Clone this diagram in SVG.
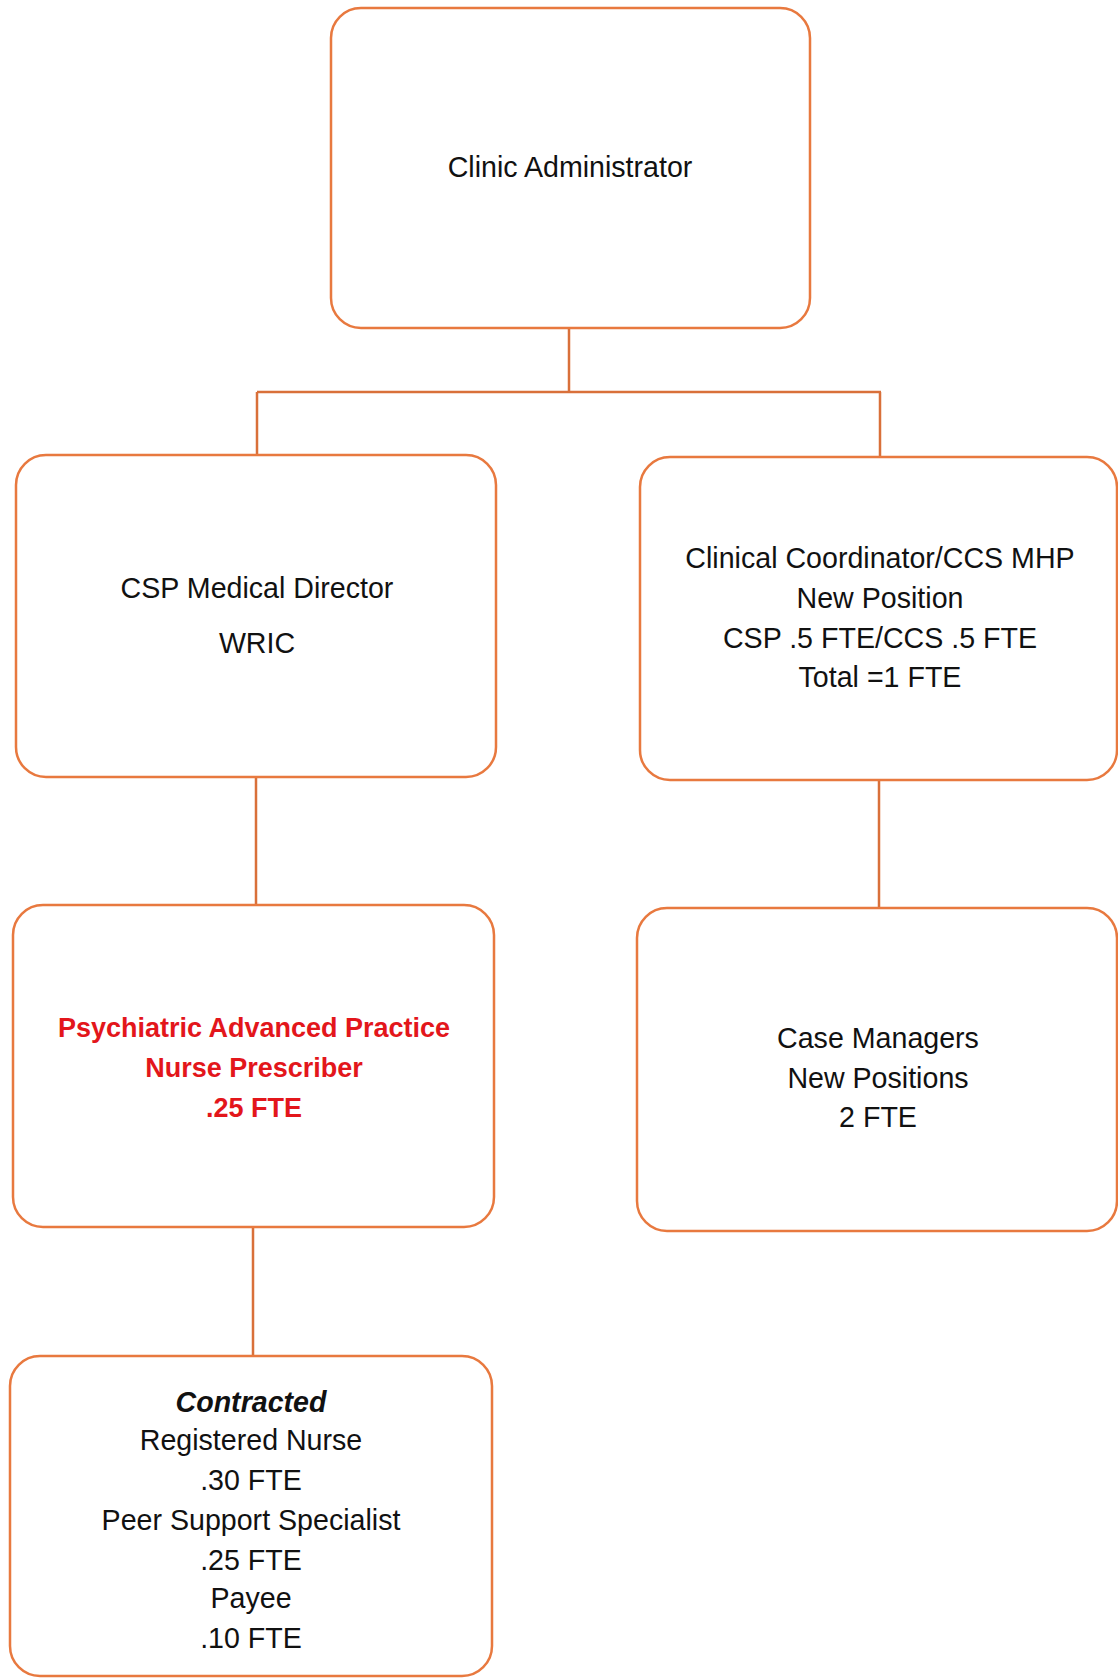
<svg xmlns="http://www.w3.org/2000/svg" width="1118" height="1679" viewBox="0 0 1118 1679">
<style>
.box{fill:#fff;stroke:#e8793f;stroke-width:2.5}
.con{stroke:#d9703a;stroke-width:2.5;fill:none}
text{font-family:"Liberation Sans",Arial,sans-serif;font-size:28.6px;fill:#111;text-anchor:middle}
.red{fill:#e3161b;font-weight:bold;font-size:27px}
.bi{font-weight:bold;font-style:italic}
</style>
<rect width="1118" height="1679" fill="#fff"/>
<g id="connectors">
<path class="con" d="M569 328V392M257 392H881M257 392V455M880 392V457M256 777V905M879 780V908M253 1227V1356"/>
</g>
<g id="clinic-admin">
<rect class="box" x="331" y="8" width="479" height="320" rx="30"/>
<text x="570" y="177">Clinic Administrator</text>
</g>
<g id="csp-medical-director">
<rect class="box" x="16" y="455" width="480" height="322" rx="30"/>
<text x="257" y="598">CSP Medical Director</text>
<text x="257" y="653">WRIC</text>
</g>
<g id="clinical-coordinator">
<rect class="box" x="640" y="457" width="477" height="323" rx="30"/>
<text x="880" y="568">Clinical Coordinator/CCS MHP</text>
<text x="880" y="608">New Position</text>
<text x="880" y="648">CSP .5 FTE/CCS .5 FTE</text>
<text x="880" y="687">Total =1 FTE</text>
</g>
<g id="psychiatric-apnp">
<rect class="box" x="13" y="905" width="481" height="322" rx="30"/>
<text class="red" x="254" y="1037">Psychiatric Advanced Practice</text>
<text class="red" x="254" y="1077">Nurse Prescriber</text>
<text class="red" x="254" y="1117">.25 FTE</text>
</g>
<g id="case-managers">
<rect class="box" x="637" y="908" width="480" height="323" rx="30"/>
<text x="878" y="1048">Case Managers</text>
<text x="878" y="1088">New Positions</text>
<text x="878" y="1127">2 FTE</text>
</g>
<g id="contracted">
<rect class="box" x="10" y="1356" width="482" height="320" rx="30"/>
<text class="bi" x="251" y="1412">Contracted</text>
<text x="251" y="1450">Registered Nurse</text>
<text x="251" y="1490">.30 FTE</text>
<text x="251" y="1530">Peer Support Specialist</text>
<text x="251" y="1570">.25 FTE</text>
<text x="251" y="1608">Payee</text>
<text x="251" y="1648">.10 FTE</text>
</g>
</svg>
